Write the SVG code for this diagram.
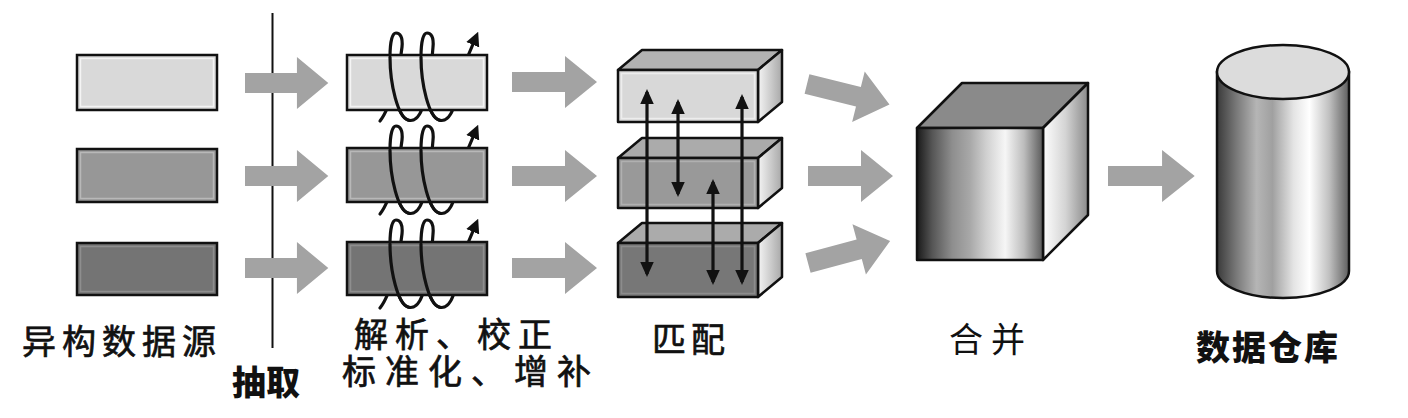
<svg xmlns="http://www.w3.org/2000/svg" width="1408" height="418" viewBox="0 0 1408 418">
<defs>
<style>
.lbl{font-family:"Noto Sans CJK SC","Noto Sans",sans-serif;font-size:34px;fill:#111;}
.b{font-weight:900;}
.m{stroke:#111;stroke-width:0.7px;}
.box{stroke:#111;stroke-width:2.5;}
.coil{fill:none;stroke:#111;stroke-width:3.2;stroke-linecap:round;}
.dbl{stroke:#111;stroke-width:3.2;marker-start:url(#ah);marker-end:url(#ah);}
.garr{fill:#a3a3a3;}
.edge{stroke:#111;stroke-width:2.5;stroke-linejoin:round;}
</style>
<marker id="ah" viewBox="0 0 10 10" refX="8" refY="5" markerUnits="userSpaceOnUse" markerWidth="15" markerHeight="15" orient="auto-start-reverse">
<path d="M0,0.5 L10,5 L0,9.5 Z" fill="#111"/>
</marker>
<marker id="ahs" viewBox="0 0 10 10" refX="6" refY="5" markerUnits="userSpaceOnUse" markerWidth="14" markerHeight="14" orient="auto">
<path d="M0,0 L10,5 L0,10 Z" fill="#111"/>
</marker>
<path id="garrow" d="M0,-10 L53,-10 L53,-26 L85,0 L53,26 L53,10 L0,10 Z"/>
<linearGradient id="cubeFront" x1="0" y1="0" x2="1" y2="0">
<stop offset="0" stop-color="#1a1a1a"/>
<stop offset="0.12" stop-color="#555"/>
<stop offset="0.28" stop-color="#8e8e8e"/>
<stop offset="0.42" stop-color="#a8a8a8"/>
<stop offset="0.55" stop-color="#d0d0d0"/>
<stop offset="0.7" stop-color="#f6f6f6"/>
<stop offset="0.85" stop-color="#bcbcbc"/>
<stop offset="1" stop-color="#5a5a5a"/>
</linearGradient>
<linearGradient id="cubeSide" x1="0" y1="0" x2="1" y2="0">
<stop offset="0" stop-color="#ffffff"/>
<stop offset="0.5" stop-color="#d4d4d4"/>
<stop offset="1" stop-color="#8a8a8a"/>
</linearGradient>
<linearGradient id="cyl" x1="0" y1="0" x2="1" y2="0">
<stop offset="0" stop-color="#3a3a3a"/>
<stop offset="0.15" stop-color="#7a7a7a"/>
<stop offset="0.3" stop-color="#b5b5b5"/>
<stop offset="0.42" stop-color="#a0a0a0"/>
<stop offset="0.58" stop-color="#e4e4e4"/>
<stop offset="0.7" stop-color="#ffffff"/>
<stop offset="0.85" stop-color="#c0c0c0"/>
<stop offset="1" stop-color="#5e5e5e"/>
</linearGradient>
<linearGradient id="mSide" x1="0" y1="0" x2="1" y2="0">
<stop offset="0" stop-color="#f4f4f4"/>
<stop offset="1" stop-color="#a8a8a8"/>
</linearGradient>
</defs>
<rect width="1408" height="418" fill="#ffffff"/>

<!-- Heterogeneous sources -->
<g id="sources">
<rect class="box" x="77" y="55" width="140" height="55" fill="#d9d9d9"/>
<rect x="80.5" y="58.5" width="133" height="48" fill="none" stroke="#f4f4f4" stroke-width="1.5"/>
<rect class="box" x="77" y="149" width="140" height="53" fill="#979797"/>
<rect x="80.5" y="152.5" width="133" height="46" fill="none" stroke="#b8b8b8" stroke-width="1.5"/>
<rect class="box" x="77" y="243" width="140" height="52" fill="#747474"/>
<rect x="80.5" y="246.5" width="133" height="45" fill="none" stroke="#8e8e8e" stroke-width="1.5"/>
<text class="lbl m" x="22" y="354" font-size="35" letter-spacing="6">异构数据源</text>
</g>

<g id="extract">
<line x1="272.5" y1="13" x2="272.5" y2="348" stroke="#111" stroke-width="2"/>
<text class="lbl b" x="232" y="395" font-size="35">抽取</text>
</g>

<!-- Parse / normalize -->
<g id="parse">
<g id="parse-row1">
<path class="coil" d="M380,121 C392,106 400,65 402,47 C403,37 400,33 396,33 C392,33 390,43 390,57 C390,85 398,117 408,120 C414,122 419,117 422,109 C428,90 432,65 433,47 C434,37 431,33 427,33 C423,33 421,43 421,57 C421,85 429,117 439,120 C445,122 450,117 453,109 C458,95 464,70 468,56 L476,37" marker-end="url(#ahs)"/>
<rect class="box" x="347" y="55" width="140" height="55" fill="#d9d9d9"/>
<rect x="350.5" y="58.5" width="133" height="48" fill="none" stroke="#f4f4f4" stroke-width="1.5"/>
<path class="coil" d="M390,57 C390,85 398,117 408,120 M421,57 C421,85 429,117 439,120"/>
</g>
<g id="parse-row2">
<path class="coil" d="M380,214 C392,199 400,158 402,140 C403,130 400,126 396,126 C392,126 390,136 390,150 C390,178 398,210 408,213 C414,215 419,210 422,202 C428,183 432,158 433,140 C434,130 431,126 427,126 C423,126 421,136 421,150 C421,178 429,210 439,213 C445,215 450,210 453,202 C458,188 464,163 468,149 L476,130" marker-end="url(#ahs)"/>
<rect class="box" x="347" y="148" width="140" height="54" fill="#979797"/>
<rect x="350.5" y="151.5" width="133" height="47" fill="none" stroke="#b8b8b8" stroke-width="1.5"/>
<path class="coil" d="M390,150 C390,178 398,210 408,213 M421,150 C421,178 429,210 439,213"/>
</g>
<g id="parse-row3">
<path class="coil" d="M380,308 C392,293 400,252 402,234 C403,224 400,220 396,220 C392,220 390,230 390,244 C390,272 398,304 408,307 C414,309 419,304 422,296 C428,277 432,252 433,234 C434,224 431,220 427,220 C423,220 421,230 421,244 C421,272 429,304 439,307 C445,309 450,304 453,296 C458,282 464,257 468,243 L476,224" marker-end="url(#ahs)"/>
<rect class="box" x="347" y="242" width="140" height="53" fill="#747474"/>
<rect x="350.5" y="245.5" width="133" height="46" fill="none" stroke="#8e8e8e" stroke-width="1.5"/>
<path class="coil" d="M390,244 C390,272 398,304 408,307 M421,244 C421,272 429,304 439,307"/>
</g>
<text class="lbl m" x="354" y="347" font-size="32" letter-spacing="7">解析、校正</text>
<text class="lbl m" x="342" y="384" font-size="32" letter-spacing="9">标准化、增补</text>
</g>

<!-- Matching -->
<g id="match">
<g id="match-box1">
<polygon class="edge" points="618,70 642,50 782,50 758,70" fill="#b2b2b2"/>
<polygon class="edge" points="758,70 782,50 782,102 758,122" fill="url(#mSide)"/>
<rect class="edge" x="618" y="70" width="140" height="52" fill="#d8d8d8"/>
<rect x="621.5" y="73.5" width="133" height="45" fill="none" stroke="#ededed" stroke-width="1.5"/>
</g>
<g id="match-box2">
<polygon class="edge" points="618,158 642,138 782,138 758,158" fill="#ababab"/>
<polygon class="edge" points="758,158 782,138 782,188 758,208" fill="url(#mSide)"/>
<rect class="edge" x="618" y="158" width="140" height="50" fill="#999999"/>
<rect x="621.5" y="161.5" width="133" height="43" fill="none" stroke="#b0b0b0" stroke-width="1.5"/>
</g>
<g id="match-box3">
<polygon class="edge" points="618,243 642,223 782,223 758,243" fill="#ababab"/>
<polygon class="edge" points="758,243 782,223 782,277 758,297" fill="url(#mSide)"/>
<rect class="edge" x="618" y="243" width="140" height="54" fill="#777777"/>
<rect x="621.5" y="246.5" width="133" height="47" fill="none" stroke="#8c8c8c" stroke-width="1.5"/>
</g>
<text class="lbl m" x="652" y="352" font-size="35" letter-spacing="5">匹配</text>
</g>

<!-- Merge cube -->
<g id="merge">
<polygon class="edge" points="917,128 962,83 1088,83 1043,128" fill="#8a8a8a"/>
<polygon class="edge" points="1043,128 1088,83 1088,215 1043,260" fill="url(#cubeSide)"/>
<rect class="edge" x="917" y="128" width="126" height="132" fill="url(#cubeFront)"/>
<text class="lbl" x="949" y="352" font-size="34" letter-spacing="8">合并</text>
</g>

<!-- Data warehouse -->
<g id="warehouse">
<path d="M1217,72 L1217,271 A66,27 0 0 0 1349,271 L1349,72 Z" fill="url(#cyl)" stroke="#111" stroke-width="2.5"/>
<ellipse cx="1283" cy="72" rx="66" ry="27" fill="#dcdcdc" stroke="#111" stroke-width="2.5"/>
<text class="lbl b" x="1196" y="360" font-size="36" letter-spacing="2">数据仓库</text>
</g>

<!-- Connectors -->
<g id="connectors">
<use href="#garrow" class="garr" transform="translate(245,83) scale(0.98,1)"/>
<use href="#garrow" class="garr" transform="translate(245,176) scale(0.98,1)"/>
<use href="#garrow" class="garr" transform="translate(245,268) scale(0.98,1)"/>
<use href="#garrow" class="garr" transform="translate(512,82)"/>
<use href="#garrow" class="garr" transform="translate(512,176)"/>
<use href="#garrow" class="garr" transform="translate(512,268)"/>
<use href="#garrow" class="garr" transform="translate(807,84) rotate(14)"/>
<use href="#garrow" class="garr" transform="translate(808,176)"/>
<use href="#garrow" class="garr" transform="translate(808,263) rotate(-15)"/>
<use href="#garrow" class="garr" transform="translate(1108,176) scale(1.02,1)"/>
<line class="dbl" x1="647" y1="92" x2="647" y2="274"/>
<line class="dbl" x1="678" y1="102" x2="678" y2="194"/>
<line class="dbl" x1="713" y1="182" x2="713" y2="282"/>
<line class="dbl" x1="742" y1="97" x2="742" y2="282"/>
</g>
</svg>
